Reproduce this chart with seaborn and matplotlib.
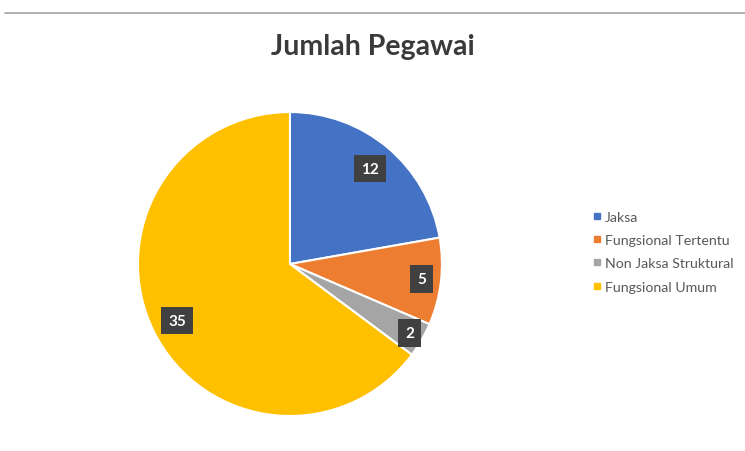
import numpy as np
import seaborn as sns
import matplotlib.pyplot as plt
from matplotlib.lines import Line2D

# data
categories = ["Jaksa", "Fungsional Tertentu", "Non Jaksa Struktural", "Fungsional Umum"]
values = [12, 5, 2, 35]
colors = ["#4472C4", "#ED7D31", "#A5A5A5", "#FFC000"]
label_dist = [0.82, 0.87, 0.91, 0.83]

sns.set_style("white")
plt.rcParams["font.family"] = ["Lato", "DejaVu Sans"]

fig = plt.figure(figsize=(7.45, 4.52), dpi=100)
ax = fig.add_axes([0.1852, 0.0774, 0.408, 0.6726])

wedges, _ = ax.pie(
    values,
    colors=colors,
    startangle=90,
    counterclock=False,
    radius=1,
    wedgeprops=dict(edgecolor="white", linewidth=1.5),
)
ax.set_xlim(-1, 1)
ax.set_ylim(-1, 1)
ax.set_aspect("equal")
ax.axis("off")

# value labels in dark boxes
for w, v, d in zip(wedges, values, label_dist):
    mid = np.deg2rad((w.theta1 + w.theta2) / 2)
    ax.text(d * np.cos(mid), d * np.sin(mid), str(v),
            ha="center", va="center", color="white",
            fontsize=11, fontweight="bold",
            bbox=dict(boxstyle="square,pad=0.45", fc="#404040", ec="none"))

fig.text(0.5, 0.897, "Jumlah Pegawai", ha="center", va="center",
         fontsize=20.5, fontweight="bold", color="#3a3a3a")

handles = [Line2D([], [], marker="s", linestyle="none", markersize=5,
                  markerfacecolor=c, markeredgecolor=c) for c in colors]
leg = fig.legend(handles, categories, loc="center left",
                 bbox_to_anchor=(0.779, 0.441), frameon=False,
                 fontsize=10.2, handlelength=0.5, handletextpad=0.35,
                 labelspacing=0.8, labelcolor="#595959")

# top separator line
fig.add_artist(Line2D([0.007, 1.0], [1 - 14 / 452, 1 - 14 / 452],
                      color="#a6a6a6", linewidth=1.2))

fig.savefig("out.png", dpi=100)
